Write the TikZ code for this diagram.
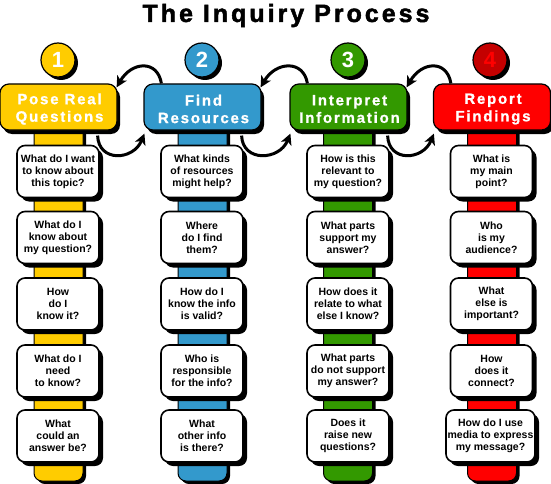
\documentclass[tikz,border=0pt]{standalone}
\usepackage{fontspec}
\setmainfont{Liberation Sans}
\newfontfamily\titlefont{Liberation Sans}[LetterSpace=12,FakeBold=1.8]
\newfontfamily\hdrfont{Liberation Sans}[LetterSpace=12,FakeBold=1.0]
\usetikzlibrary{arrows.meta,calc,shadows}
\definecolor{cyel}{HTML}{FFCC00}
\definecolor{cblu}{HTML}{3399CC}
\definecolor{cgrn}{HTML}{339900}
\definecolor{cred}{HTML}{FF0000}
\definecolor{cdred}{HTML}{C40000}
\tikzset{
  hdr/.style={draw=black, line width=1.2pt, rounded corners=9pt, minimum width=117pt,
    minimum height=46pt, inner sep=0pt,
    drop shadow={shadow xshift=3pt, shadow yshift=-4pt, fill=black, opacity=1}},
  hdrtext/.style={text=white, align=center, inner sep=0pt,
    font=\hdrfont\bfseries\fontsize{15}{17.5}\selectfont},
  qbox/.style={draw=black, line width=1.6pt, rounded corners=8pt, fill=white,
    minimum width=82pt, minimum height=52pt, inner sep=0pt, align=center,
    font=\bfseries\fontsize{10.5}{12}\selectfont,
    drop shadow={shadow xshift=4pt, shadow yshift=-4pt, fill=black, opacity=1}},
  numc/.style={circle, draw=black, line width=1.2pt, minimum size=34pt, inner sep=0pt,
    font=\bfseries\fontsize{22}{22}\selectfont, text=white,
    drop shadow={shadow xshift=3pt, shadow yshift=-3pt, fill=black, opacity=1}},
  arr/.style={line width=3pt, -{Stealth[length=11pt,width=11pt,inset=3pt]}},
  spineline/.style={draw=black, line width=1pt, rounded corners=8pt}
}
\begin{document}
\begin{tikzpicture}[x=1pt,y=-1pt]
\useasboundingbox (0,0) rectangle (551,484);
% title
\node[anchor=base, font=\titlefont\bfseries\fontsize{25}{25}\selectfont] (title) at (286,22) {The Inquiry Process};
% spines
\foreach \cx/\col in {58.5/cyel, 202.5/cblu, 348/cgrn, 492/cred}{
  \fill[black, rounded corners=8pt] (\cx-24.5+3,125) -- (\cx-24.5+3,484) -- (\cx+24.5+3,484) -- (\cx+24.5+3,125) -- cycle;
  \filldraw[fill=\col, spineline] (\cx-24.5,120) -- (\cx-24.5,481) -- (\cx+24.5,481) -- (\cx+24.5,120);
}
% headers
\node[hdr, fill=cyel] (h1) at (58.5,107) {};
\node[hdr, fill=cblu] (h2) at (202.5,107) {};
\node[hdr, fill=cgrn] (h3) at (348.5,107) {};
\node[hdr, fill=cred] (h4) at (492,107) {};
\node[hdrtext] (h1t) at (59.5,109) {Pose Real\\Questions};
\node[hdrtext] (h2t) at (203.5,109) {Find\\Resources};
\node[hdrtext] (h3t) at (349.5,109) {Interpret\\Information};
\node[hdrtext] (h4t) at (493,109) {Report\\Findings};
% number circles
\node[numc, fill=cyel] (c1) at (58,60) {1};
\node[numc, fill=cblu] (c2) at (202,60) {2};
\node[numc, fill=cgrn] (c3) at (348,60) {3};
\node[numc, fill=cdred, text=cred] (c4) at (490,60) {4};
% arrows
\foreach \a/\b in {h1/h2, h2/h3, h3/h4}{
  \draw[arr] ($(\b.north west)+(18,0)$) .. controls +(-4,-24) and +(15,-26) .. ($(\a.north east)+(-1,4)$);
  \draw[arr] ($(\a.south east)+(-20,5)$) .. controls +(1,27) and +(-11,27) .. ($(\b.south west)+(1,3)$);
}
% boxes column 1
\node[qbox] (b11) at (58,171.5) {What do I want\\to know about\\this topic?};
\node[qbox] (b12) at (58,237.5) {What do I\\know about\\my question?};
\node[qbox] (b13) at (58,304) {How\\do I\\know it?};
\node[qbox] (b14) at (58,371) {What do I\\need\\to know?};
\node[qbox] (b15) at (58,436) {What\\could an\\answer be?};
% column 2
\node[qbox] (b21) at (202,171.5) {What kinds\\of resources\\might help?};
\node[qbox] (b22) at (202,237.5) {Where\\do I find\\them?};
\node[qbox] (b23) at (202,304) {How do I\\know the info\\is valid?};
\node[qbox] (b24) at (202,371) {Who is\\responsible\\for the info?};
\node[qbox] (b25) at (202,436) {What\\other info\\is there?};
% column 3
\node[qbox] (b31) at (348,171.5) {How is this\\relevant to\\my question?};
\node[qbox] (b32) at (348,237.5) {What parts\\support my\\answer?};
\node[qbox] (b33) at (348,304) {How does it\\relate to what\\else I know?};
\node[qbox] (b34) at (348,371) {What parts\\do not support\\my answer?};
\node[qbox] (b35) at (348,436) {Does it\\raise new\\questions?};
% column 4
\node[qbox] (b41) at (491.5,171.5) {What is\\my main\\point?};
\node[qbox] (b42) at (491.5,237.5) {Who\\is my\\audience?};
\node[qbox] (b43) at (491.5,304) {What\\else is\\important?};
\node[qbox] (b44) at (491.5,371) {How\\does it\\connect?};
\node[qbox, minimum width=89pt] (b45) at (490.5,436) {How do I use\\media to express\\my message?};
\end{tikzpicture}
\end{document}
